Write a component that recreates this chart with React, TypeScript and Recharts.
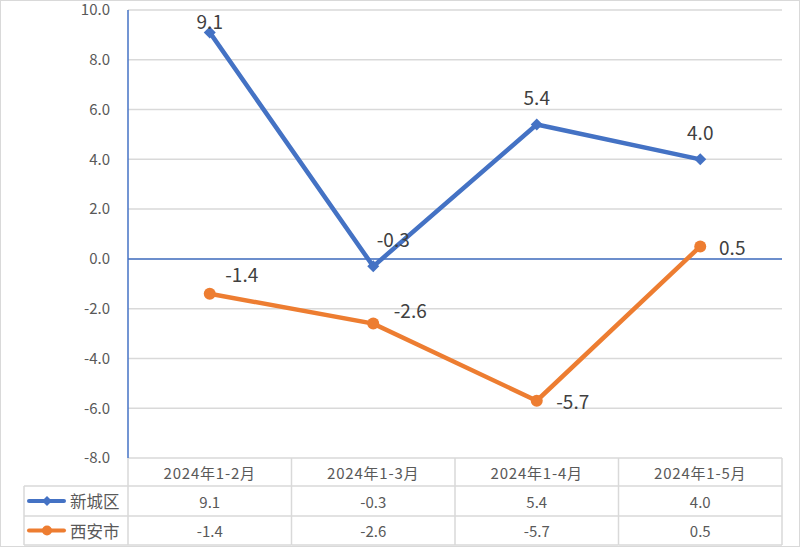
import React from 'react'
import { LineChart, Line, XAxis, YAxis, CartesianGrid, ReferenceLine, LabelList } from 'recharts'

// 新城区 vs 西安市 累计增速（%），下方带数据表
const CATEGORIES = ['2024年1-2月', '2024年1-3月', '2024年1-4月', '2024年1-5月']
const XINCHENG = [9.1, -0.3, 5.4, 4.0]
const XIAN = [-1.4, -2.6, -5.7, 0.5]
const SERIES_NAMES = ['新城区', '西安市']
const Y_TICKS = [-8, -6, -4, -2, 0, 2, 4, 6, 8, 10]

const BLUE = '#4472C4'
const ORANGE = '#ED7D31'
const GRID = '#D9D9D9'
const TEXT = '#595959'
const LABEL = '#404040'
const FONT = '"Noto Sans CJK SC", "Noto Sans", sans-serif'

const W = 800
const H = 547
const PLOT_LEFT = 128
const PLOT_RIGHT = 782
const PLOT_TOP = 10
const PLOT_BOTTOM = 458
const BAND = (PLOT_RIGHT - PLOT_LEFT) / CATEGORIES.length
const ROW_H = [28, 30, 29] // 表头, 新城区, 西安市
const LEGEND_LEFT = 24

// 数据标签偏移 (dx, dy)，仿 Excel 手动挪过的位置
const BLUE_LABEL_OFFSET = [[0, -12], [20, -28], [0, -28], [0, -28]]
const ORANGE_LABEL_OFFSET = [[32, -20], [37, -14], [36, 0], [32, 0]]

const data = CATEGORIES.map((cat, i) => ({ cat, a: XINCHENG[i], b: XIAN[i] }))

function fmt(v: number) {
  return v.toFixed(1)
}

function LegendIcon({ x, y, color, diamond }: { x: number; y: number; color: string; diamond: boolean }) {
  return (
    <g>
      <line x1={x} y1={y} x2={x + 35} y2={y} stroke={color} strokeWidth={4} strokeLinecap="round" />
      {diamond ? (
        <polygon points={`${x + 18},${y - 5} ${x + 23},${y} ${x + 18},${y + 5} ${x + 13},${y}`} fill={color} />
      ) : (
        <circle cx={x + 18} cy={y} r={5} fill={color} />
      )}
    </g>
  )
}

function TableTick(props: any) {
  const { x, payload } = props
  const i = payload.index
  const top = PLOT_BOTTOM
  const r1 = top + ROW_H[0]
  const r2 = r1 + ROW_H[1]
  const r3 = r2 + ROW_H[2]
  const left = x - BAND / 2
  const right = x + BAND / 2
  const txt = { fontFamily: FONT, fontSize: 15, fill: TEXT, textAnchor: 'middle' as const, dominantBaseline: 'central' as const }
  return (
    <g>
      <line x1={right} y1={top} x2={right} y2={r3} stroke={GRID} strokeWidth={1.5} />
      {[r1, r2, r3].map(yy => (
        <line key={yy} x1={left} x2={right} y1={yy} y2={yy} stroke={GRID} strokeWidth={1.5} />
      ))}
      <text x={x} y={(top + r1) / 2} {...txt} letterSpacing={0.8}>{payload.value}</text>
      <text x={x} y={(r1 + r2) / 2} {...txt}>{fmt(XINCHENG[i])}</text>
      <text x={x} y={(r2 + r3) / 2} {...txt}>{fmt(XIAN[i])}</text>
      {i === 0 && (
        <g>
          <line x1={left} y1={top} x2={left} y2={r3} stroke={GRID} strokeWidth={1.5} />
          <line x1={LEGEND_LEFT} y1={r1} x2={LEGEND_LEFT} y2={r3} stroke={GRID} strokeWidth={1.5} />
          {[r1, r2, r3].map(yy => (
            <line key={yy} x1={LEGEND_LEFT} x2={left} y1={yy} y2={yy} stroke={GRID} strokeWidth={1.5} />
          ))}
          <LegendIcon x={29} y={(r1 + r2) / 2} color={BLUE} diamond />
          <LegendIcon x={29} y={(r2 + r3) / 2} color={ORANGE} diamond={false} />
          <text x={70} y={(r1 + r2) / 2} {...txt} textAnchor="start" fontSize={16.5}>{SERIES_NAMES[0]}</text>
          <text x={70} y={(r2 + r3) / 2} {...txt} textAnchor="start" fontSize={16.5}>{SERIES_NAMES[1]}</text>
        </g>
      )}
    </g>
  )
}

function makeLabel(offsets: number[][]) {
  return (props: any) => {
    const { x, y, value, index } = props
    const [dx, dy] = offsets[index] ?? [0, 0]
    return (
      <text
        x={x + dx}
        y={y + dy}
        fill={LABEL}
        fontSize={19}
        fontFamily={FONT}
        textAnchor="middle"
        dominantBaseline="central"
      >
        {fmt(value)}
      </text>
    )
  }
}

function DiamondDot(props: any) {
  const { cx, cy, index } = props
  const s = 6
  return <polygon key={`d${index}`} points={`${cx},${cy - s} ${cx + s},${cy} ${cx},${cy + s} ${cx - s},${cy}`} fill={BLUE} />
}

function CircleDot(props: any) {
  const { cx, cy, index } = props
  return <circle key={`c${index}`} cx={cx} cy={cy} r={6} fill={ORANGE} />
}

export default function App() {
  return (
    <div style={{ position: 'absolute', left: 0, top: 0, width: W, height: H, background: '#fff' }}>
      <LineChart
        width={W}
        height={H}
        data={data}
        margin={{ top: PLOT_TOP, right: W - PLOT_RIGHT, bottom: 0, left: 0 }}
      >
        <CartesianGrid vertical={false} stroke={GRID} strokeWidth={1.5} />
        <XAxis
          dataKey="cat"
          height={H - PLOT_BOTTOM}
          axisLine={false}
          tickLine={false}
          tickSize={0}
          tickMargin={0}
          interval={0}
          padding={{ left: BAND / 2, right: BAND / 2 }}
          tick={TableTick}
        />
        <YAxis
          domain={[-8, 10]}
          ticks={Y_TICKS}
          allowDataOverflow
          width={PLOT_LEFT}
          tickFormatter={fmt}
          axisLine={{ stroke: BLUE, strokeWidth: 1.5 }}
          tickLine={false}
          tickSize={0}
          tickMargin={18}
          tick={{ fill: TEXT, fontSize: 15, fontFamily: FONT }}
        />
        <ReferenceLine y={0} stroke={BLUE} strokeWidth={1.5} />
        <Line
          dataKey="a"
          stroke={BLUE}
          strokeWidth={4.5}
          dot={DiamondDot}
          activeDot={false}
          isAnimationActive={false}
        >
          <LabelList dataKey="a" content={makeLabel(BLUE_LABEL_OFFSET)} />
        </Line>
        <Line
          dataKey="b"
          stroke={ORANGE}
          strokeWidth={4.5}
          dot={CircleDot}
          activeDot={false}
          isAnimationActive={false}
        >
          <LabelList dataKey="b" content={makeLabel(ORANGE_LABEL_OFFSET)} />
        </Line>
      </LineChart>
      <div style={{ position: 'absolute', inset: 0, border: `1px solid ${GRID}`, boxSizing: 'border-box', pointerEvents: 'none' }} />
    </div>
  )
}
